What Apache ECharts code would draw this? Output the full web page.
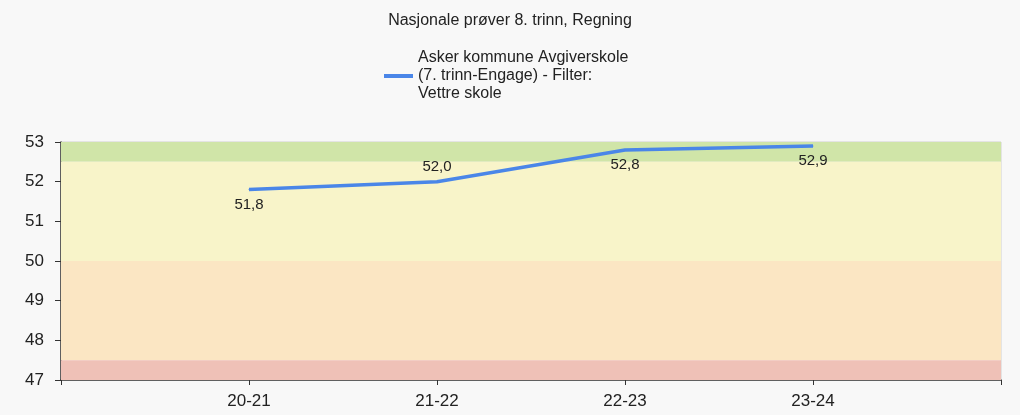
<!DOCTYPE html>
<html>
<head>
<meta charset="utf-8">
<script src="https://cdn.jsdelivr.net/npm/echarts@6/dist/echarts.min.js"></script>
<style>
  html, body { margin: 0; padding: 0; background: #f8f8f8; }
  #chart { width: 1020px; height: 415px; }
</style>
</head>
<body>
<div id="chart"></div>
<script>
// blank slots at each end so the four years sit where the original puts them
var categories = ["", "20-21", "21-22", "22-23", "23-24", ""];
var values = [null, 51.8, 52.0, 52.8, 52.9, null];
var labelPos = [null, "bottom", "top", "bottom", "bottom", null];
var seriesName = "Asker kommune Avgiverskole\n(7. trinn-Engage) - Filter:\nVettre skole";

// colour bands [from, to]
var bandGreen = [52.5, 53];
var bandYellow = [50, 52.5];
var bandOrange = [47.5, 50];
var bandRed = [47, 47.5];

var voChart = echarts.init(document.getElementById("chart"));

var fontFam = "'Liberation Sans', Arial, sans-serif";

function band(range, color) {
	return [{ yAxis: range[0], itemStyle: { color: color } }, { yAxis: range[1] }];
}

var voOption = {
	backgroundColor: "#f8f8f8",
	animation: false,
	title: {
		text: "Nasjonale prøver 8. trinn, Regning",
		left: "center",
		top: 8,
		textStyle: { fontSize: 16, fontWeight: "normal", color: "#222", fontFamily: fontFam }
	},
	legend: {
		left: 379,
		top: 44,
		itemWidth: 29,
		itemHeight: 4,
		itemGap: 6,
		icon: "rect",
		textStyle: { fontSize: 16, color: "#222", lineHeight: 18, fontFamily: fontFam },
		data: [seriesName]
	},
	grid: {
		left: 61,
		right: 19,
		top: 142,
		bottom: 35,
		show: true,
		borderColor: "#d0d0d0",
		borderWidth: 1,
		backgroundColor: "transparent"
	},
	xAxis: {
		type: "category",
		data: categories,
		boundaryGap: false,
		axisLine: { lineStyle: { color: "#333", width: 1.5 } },
		axisTick: { show: true, length: 5, lineStyle: { color: "#333" } },
		axisLabel: { fontSize: 17, color: "#222", margin: 13, fontFamily: fontFam },
		splitLine: { show: false }
	},
	yAxis: {
		type: "value",
		min: 47,
		max: 53,
		interval: 1,
		axisLine: { show: true, lineStyle: { color: "#333", width: 1.5 } },
		axisTick: { show: true, length: 6, lineStyle: { color: "#333" } },
		axisLabel: { fontSize: 17, color: "#222", margin: 17, fontFamily: fontFam },
		splitLine: { show: true, lineStyle: { color: "rgba(235,235,235,0.7)", width: 1 } }
	},
	series: [{
		name: seriesName,
		type: "line",
		data: values.map(function(v, i) {
			if (v === null) return null;
			return { value: v, label: { show: true, position: labelPos[i] } };
		}),
		connectNulls: false,
		symbol: "circle",
		symbolSize: 1,
		showSymbol: true,
		lineStyle: { color: "#4a86e8", width: 3.5 },
		itemStyle: { color: "#4a86e8" },
		label: {
			show: true,
			fontSize: 15,
			color: "#222",
			distance: 7,
			fontFamily: fontFam,
			formatter: function(p) { return p.value.toFixed(1).replace(".", ","); }
		},
		markArea: {
			silent: true,
			data: [
				band(bandGreen, "#d0e5a8"),
				band(bandYellow, "#f8f4c9"),
				band(bandOrange, "#fbe6c3"),
				band(bandRed, "#efc1b7")
			]
		},
		z: 3
	}]
};

voChart.setOption(voOption);
</script>
</body>
</html>
